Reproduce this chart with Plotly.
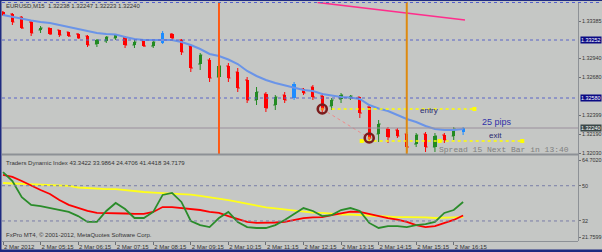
import plotly.graph_objects as go

# ---------------- data ----------------
bars = list(range(50))
time_label_bars = [0, 4, 8, 12, 16, 20, 24, 28, 32, 36, 40, 44, 48]
time_labels = ["2 Mar 2012", "2 Mar 05:15", "2 Mar 06:15", "2 Mar 07:15", "2 Mar 08:15",
               "2 Mar 09:15", "2 Mar 10:15", "2 Mar 11:15", "2 Mar 12:15", "2 Mar 13:15",
               "2 Mar 14:15", "2 Mar 15:15", "2 Mar 16:15"]

open_ = [1.3340, 1.3338, 1.3335, 1.3330, 1.3322, 1.3324, 1.3322, 1.3320, 1.3318, 1.3316,
         1.3308, 1.3311, 1.3314, 1.3315, 1.3307, 1.3311, 1.3306, 1.3309, 1.3318, 1.3312,
         1.3306, 1.3288, 1.3292, 1.3275, 1.3286, 1.3280, 1.3272, 1.3252, 1.3258, 1.3247,
         1.3257, 1.3254, 1.3263, 1.3265, 1.3256, 1.3246, 1.3253, 1.3254, 1.3255, 1.3245,
         1.3218, 1.3223, 1.3222, 1.3218, 1.3208, 1.3218, 1.3205, 1.3217, 1.3216, 1.3220]
close = [1.3337, 1.3330, 1.3324, 1.3319, 1.3324, 1.3318, 1.3317, 1.3316, 1.3314, 1.3307,
         1.3312, 1.3315, 1.3317, 1.3307, 1.3310, 1.3306, 1.3310, 1.3319, 1.3314, 1.3300,
         1.3284, 1.3297, 1.3274, 1.3286, 1.3274, 1.3264, 1.3252, 1.3260, 1.3244, 1.3255,
         1.3252, 1.3268, 1.3259, 1.3255, 1.3244, 1.3252, 1.3257, 1.3256, 1.3239, 1.3214,
         1.3228, 1.3215, 1.3216, 1.3205, 1.3217, 1.3205, 1.3216, 1.3212, 1.3223, 1.3224]
high = [1.3341, 1.3339, 1.3336, 1.3331, 1.3326, 1.3324, 1.3322, 1.3320, 1.3319, 1.3317,
        1.3313, 1.3316, 1.3318, 1.3316, 1.3312, 1.3312, 1.3311, 1.3321, 1.3319, 1.3313,
        1.3307, 1.3299, 1.3294, 1.3290, 1.3289, 1.3284, 1.3275, 1.3265, 1.3260, 1.3257,
        1.3260, 1.3270, 1.3264, 1.3267, 1.3259, 1.3254, 1.3259, 1.3257, 1.3255, 1.3247,
        1.3232, 1.3225, 1.3224, 1.3220, 1.3219, 1.3220, 1.3219, 1.3219, 1.3225, 1.3225]
low = [1.3336, 1.3327, 1.3323, 1.3316, 1.3319, 1.3317, 1.3315, 1.3315, 1.3313, 1.3305,
       1.3305, 1.3309, 1.3312, 1.3304, 1.3304, 1.3305, 1.3304, 1.3308, 1.3312, 1.3297,
       1.3280, 1.3282, 1.3270, 1.3272, 1.3270, 1.3260, 1.3249, 1.3247, 1.3240, 1.3242,
       1.3249, 1.3252, 1.3257, 1.3252, 1.3239, 1.3242, 1.3249, 1.3252, 1.3234, 1.3209,
       1.3210, 1.3209, 1.3214, 1.3200, 1.3205, 1.3200, 1.3200, 1.3209, 1.3212, 1.3217]
blue_bars = [17, 31, 49]

moving_avg = [1.3337, 1.3335, 1.3333, 1.33315, 1.3330, 1.3329, 1.3327, 1.3325, 1.3323, 1.3321,
              1.3319, 1.3318, 1.33175, 1.3315, 1.3313, 1.3312, 1.3312, 1.3312, 1.3312, 1.3310,
              1.3307, 1.3303, 1.3298, 1.3296, 1.32925, 1.3288, 1.3281, 1.3276, 1.3272, 1.3269,
              1.32665, 1.3264, 1.3262, 1.3261, 1.3258, 1.32565, 1.3255, 1.32545, 1.3253, 1.3247,
              1.32435, 1.3241, 1.3237, 1.3233, 1.3230, 1.3226, 1.3223, 1.3222, 1.3222, 1.3223]

trend_x = [33.5, 49.2]
trend_y = [1.33495, 1.3332]
vertical_line_bars = [23, 43]
dotted_levels = [1.3312, 1.3254]
bid_price = 1.3224

signal_x = [34, 39]
signal_y = [1.3243, 1.3214]
entry_x = [35, 50.2]
entry_price = 1.3243
exit_x = [38.2, 55.3]
exit_marks = [38.2, 46.5, 55.3]
exit_price = 1.3211

price_tick_vals = [1.3331, 1.3294, 1.3275, 1.3237, 1.3218, 1.3199]
price_tick_text = ["1.33385", "1.32940", "1.32680", "1.32399", "1.32190", "1.32030"]
price_tags = [(1.3312, "1.33252", "#0a0a84"), (1.3254, "1.32580", "#0a0a84"),
              (1.3224, "1.32240", "#3a4848")]

tdi_green = [57.0, 52.4, 44.2, 40.2, 39.6, 38.6, 37.6, 36.6, 34.5, 31.5,
             31.5, 37.1, 41.2, 38.1, 33.5, 33.5, 36.6, 45.3, 46.3, 41.7,
             32.0, 29.9, 28.9, 33.5, 36.6, 31.5, 28.9, 28.4, 28.4, 29.9,
             32.5, 35.6, 38.6, 37.1, 34.5, 35.0, 37.6, 38.6, 37.1, 31.0,
             28.4, 29.4, 29.4, 28.9, 29.9, 30.4, 31.5, 36.1, 37.6, 41.7]
tdi_red = [55.5, 54.5, 52.4, 49.9, 47.8, 45.8, 42.7, 40.2, 38.6, 37.1,
           36.1, 36.1, 36.1, 35.8, 35.6, 35.6, 36.6, 39.1, 39.1, 38.6,
           38.1, 37.6, 36.6, 36.1, 34.5, 33.0, 31.5, 31.0, 31.0, 31.2,
           31.5, 32.5, 33.5, 33.8, 34.0, 35.0, 35.8, 36.8, 36.6, 35.6,
           34.3, 33.5, 32.7, 31.5, 29.9, 28.9, 29.4, 31.0, 32.5, 34.8]
tdi_yellow = [51.4, 51.2, 50.9, 50.9, 50.6, 50.4, 50.4, 49.9, 49.1, 48.8,
              48.6, 48.3, 48.3, 47.8, 47.1, 46.8, 46.5, 46.3, 46.0, 45.8,
              45.5, 44.8, 44.2, 43.5, 42.7, 41.7, 40.7, 39.6, 38.9, 38.4,
              37.9, 37.3, 36.6, 36.3, 36.1, 35.6, 35.3, 35.3, 35.0, 34.8,
              34.5, 34.3, 34.0, 34.0, 34.0, 33.8, 33.5, 33.5, 33.8, 34.0]
tdi_levels = [50, 32]
tdi_tick_vals = [63.1, 50, 32, 23.8]
tdi_tick_text = ["64.7020", "50", "32", "21.7599"]

# ---------------- styling ----------------
W, H = 602, 252
BG = "#c5c7c5"
RED = "#ff0000"
GREEN = "#238b23"
BLUE = "#1e8cff"
TXT = "#343434"
FONT = "Liberation Sans"
AX_FS = 5.4


def px(x):
    return x / W


def py(y):
    return 1 - y / H


def bar_of_px(p):
    return (p - 3) / 9.39


fig = go.Figure()

# candle bodies
body_colors = []
for i in bars:
    if i in blue_bars:
        body_colors.append(BLUE)
    elif close[i] >= open_[i]:
        body_colors.append(GREEN)
    else:
        body_colors.append(RED)
fig.add_trace(go.Bar(
    x=bars, y=[max(abs(c - o), 0.00004) for o, c in zip(open_, close)],
    base=[min(o, c) for o, c in zip(open_, close)],
    width=0.34, marker=dict(color=body_colors, line=dict(width=0)),
    xaxis="x", yaxis="y", hoverinfo="skip"))

# OHLC wicks / ticks
normal = [i for i in bars if i not in blue_bars]
fig.add_trace(go.Ohlc(
    x=normal, open=[open_[i] for i in normal], high=[high[i] for i in normal],
    low=[low[i] for i in normal], close=[close[i] for i in normal],
    increasing=dict(line=dict(color=GREEN, width=1)),
    decreasing=dict(line=dict(color=RED, width=1)),
    tickwidth=0.22, xaxis="x", yaxis="y", hoverinfo="skip"))
min_gap = min(b - a for a, b in zip(blue_bars[:-1], blue_bars[1:]))
fig.add_trace(go.Ohlc(
    x=blue_bars, open=[open_[i] for i in blue_bars], high=[high[i] for i in blue_bars],
    low=[low[i] for i in blue_bars], close=[close[i] for i in blue_bars],
    increasing=dict(line=dict(color=BLUE, width=1)),
    decreasing=dict(line=dict(color=BLUE, width=1)),
    tickwidth=0.22 / min_gap, xaxis="x", yaxis="y", hoverinfo="skip"))

# moving average
fig.add_trace(go.Scatter(x=bars, y=moving_avg, mode="lines",
                         line=dict(color="#6a94e8", width=2),
                         xaxis="x", yaxis="y", hoverinfo="skip"))
# trendline
fig.add_trace(go.Scatter(x=trend_x, y=trend_y, mode="lines",
                         line=dict(color="#ff2d8c", width=1.6),
                         xaxis="x", yaxis="y", hoverinfo="skip"))
# entry / exit lines
fig.add_trace(go.Scatter(x=entry_x, y=[entry_price] * 2, mode="lines",
                         line=dict(color="#ffff00", width=1.4, dash="dot"),
                         xaxis="x", yaxis="y", hoverinfo="skip"))
fig.add_trace(go.Scatter(x=[entry_x[-1]], y=[entry_price], mode="markers",
                         marker=dict(symbol="square", size=4, color="#ffff00"),
                         xaxis="x", yaxis="y", hoverinfo="skip"))
fig.add_trace(go.Scatter(x=exit_x, y=[exit_price] * 2, mode="lines",
                         line=dict(color="#ffff00", width=1.4, dash="dot"),
                         xaxis="x", yaxis="y", hoverinfo="skip"))
fig.add_trace(go.Scatter(x=exit_marks, y=[exit_price] * len(exit_marks), mode="markers",
                         marker=dict(symbol="square", size=4, color="#ffff00"),
                         xaxis="x", yaxis="y", hoverinfo="skip"))
# signal link and circles
fig.add_trace(go.Scatter(x=signal_x, y=signal_y, mode="lines",
                         line=dict(color="#f08a8a", width=1, dash="dot"),
                         xaxis="x", yaxis="y", hoverinfo="skip"))
fig.add_trace(go.Scatter(x=signal_x, y=signal_y, mode="markers",
                         marker=dict(symbol="circle-open", size=9, color="#7a1c1c",
                                     line=dict(width=2.6, color="#7a1c1c")),
                         xaxis="x", yaxis="y", hoverinfo="skip"))
fig.add_trace(go.Scatter(x=signal_x, y=signal_y, mode="markers",
                         marker=dict(symbol="circle", size=3, color="#ff7a10"),
                         xaxis="x", yaxis="y", hoverinfo="skip"))

# indicator lines
for vals, col in ((tdi_yellow, "#ffff1a"), (tdi_red, "#ff0000"), (tdi_green, "#2a8c2a")):
    fig.add_trace(go.Scatter(x=bars, y=vals, mode="lines", line=dict(color=col, width=1.8),
                             xaxis="x", yaxis="y2", hoverinfo="skip"))

shapes = []
# dotted price levels
for lv in dotted_levels:
    shapes.append(dict(type="line", xref="x domain", yref="y", x0=0, x1=1, y0=lv, y1=lv,
                       line=dict(color="#5a64c8", width=1, dash="dot")))
shapes.append(dict(type="line", xref="x domain", yref="y", x0=0, x1=1, y0=bid_price,
                   y1=bid_price, line=dict(color="#9a8f9c", width=1)))
for lv in tdi_levels:
    shapes.append(dict(type="line", xref="x domain", yref="y2", x0=0, x1=1, y0=lv, y1=lv,
                       line=dict(color="#7a7ea8", width=1, dash="dot")))
# vertical lines
for b, col in zip(vertical_line_bars, ("#ff5a14", "#dd8a10")):
    shapes.append(dict(type="line", xref="x", yref="y domain", x0=b, x1=b, y0=0, y1=1,
                       line=dict(color=col, width=2)))
# frame pieces
shapes += [
    dict(type="line", xref="paper", yref="paper", x0=px(2), x1=px(578), y0=py(154.5),
         y1=py(154.5), line=dict(color="#8d9196", width=2)),
    dict(type="line", xref="paper", yref="paper", x0=px(578.5), x1=px(578.5), y0=py(2),
         y1=py(241), line=dict(color="#8d9196", width=1)),
    dict(type="line", xref="paper", yref="paper", x0=px(2), x1=1, y0=py(2.5), y1=py(2.5),
         line=dict(color="#5560cc", width=1, dash="dot")),
    dict(type="rect", xref="paper", yref="paper", x0=0, x1=1, y0=py(1), y1=1,
         line=dict(width=0), fillcolor="#1e2a80"),
    dict(type="rect", xref="paper", yref="paper", x0=0, x1=px(1.5), y0=0, y1=1,
         line=dict(width=0), fillcolor="#1e2a80"),
    dict(type="rect", xref="paper", yref="paper", x0=0, x1=1, y0=0, y1=py(249.5),
         line=dict(width=0), fillcolor="#1e2a80"),
]

annotations = [
    dict(xref="paper", yref="paper", x=px(4), y=py(6), xanchor="left", yanchor="middle",
         text="EURUSD,M15  1.32238 1.32247 1.32223 1.32240", showarrow=False,
         font=dict(family=FONT, size=6, color=TXT)),
    dict(xref="paper", yref="paper", x=px(4), y=py(163), xanchor="left", yanchor="middle",
         text="Traders Dynamic Index 43.3422 33.9864 24.4706 41.4418 34.7179", showarrow=False,
         font=dict(family=FONT, size=6, color=TXT)),
    dict(xref="paper", yref="paper", x=px(4), y=py(235), xanchor="left", yanchor="middle",
         text="FxPro MT4, © 2001-2012, MetaQuotes Software Corp.", showarrow=False,
         font=dict(family=FONT, size=6, color=TXT)),
    dict(xref="x", yref="y", x=bar_of_px(418), y=entry_price - 0.0001, xanchor="left",
         yanchor="middle", text="entry", showarrow=False,
         font=dict(family=FONT, size=8, color="#2a2a70")),
    dict(xref="x", yref="y", x=bar_of_px(480), y=1.3230, xanchor="left",
         yanchor="middle", text="25 pips", showarrow=False,
         font=dict(family=FONT, size=9, color="#3030a8")),
    dict(xref="x", yref="y", x=bar_of_px(487), y=1.3217, xanchor="left",
         yanchor="middle", text="exit", showarrow=False,
         font=dict(family=FONT, size=8, color="#2a2a70")),
    dict(xref="x", yref="y", x=bar_of_px(437), y=1.32025, xanchor="left",
         yanchor="middle", text="Spread 15 Next Bar in 13:40", showarrow=False,
         font=dict(family="Liberation Mono", size=8, color="#808080")),
]
for val, label, col in price_tags:
    annotations.append(dict(xref="paper", yref="y", x=px(580), y=val, xanchor="left",
                            yanchor="middle", text=label, showarrow=False, bgcolor=col,
                            borderpad=0, font=dict(family=FONT, size=AX_FS, color="#ffffff")))

fig.update_layout(
    template="none",
    width=W, height=H, margin=dict(l=0, r=0, t=0, b=0, pad=0),
    paper_bgcolor=BG, plot_bgcolor=BG, showlegend=False, bargap=0,
    font=dict(family=FONT, size=6, color=TXT),
    shapes=shapes, annotations=annotations,
    xaxis=dict(domain=[px(2), px(578)], range=[bar_of_px(2), bar_of_px(578)], anchor="y2",
               tickmode="array", tickvals=time_label_bars, ticktext=time_labels,
               tickangle=0, automargin=False,
               ticks="outside", ticklen=3, tickcolor="#6a6e74", ticklabelposition="outside right",
               showgrid=False, zeroline=False, showline=True, linecolor="#8d9196",
               rangeslider=dict(visible=False), tickfont=dict(size=6, color=TXT)),
    yaxis=dict(domain=[py(155), py(2)], range=[1.3197, 1.3350], anchor="x", side="right",
               tickmode="array", tickvals=price_tick_vals, ticktext=price_tick_text,
               automargin=False,
               ticks="outside", ticklen=2, tickcolor="#6a6e74", showgrid=False,
               zeroline=False, showline=False, tickfont=dict(size=AX_FS, color=TXT)),
    yaxis2=dict(domain=[py(241), py(157)], range=[21.76, 64.68], anchor="x", side="right",
                tickmode="array", tickvals=tdi_tick_vals, ticktext=tdi_tick_text,
                automargin=False,
                ticks="outside", ticklen=2, tickcolor="#6a6e74", showgrid=False,
                zeroline=False, showline=False, tickfont=dict(size=AX_FS, color=TXT)),
)

fig.write_html("out.html")
